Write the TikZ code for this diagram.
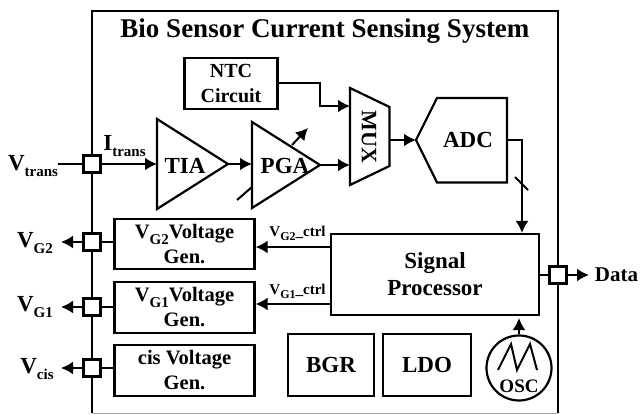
\documentclass[tikz,border=0pt]{standalone}
\usepackage{fontspec}
\setmainfont{Liberation Serif}
\usetikzlibrary{arrows.meta}
\newcommand{\sbs}[2]{\raisebox{-0.28em}{\fontsize{#1}{#1}\selectfont #2}}
\tikzset{
  wire/.style={line width=2pt},
  arrowwire/.style={wire,-{Latex[length=12pt,width=13pt]}},
  blockbox/.style={draw,line width=2.2pt,fill=white,align=center,inner sep=0pt,font=\bfseries\fontsize{20.5}{25}\selectfont},
  portbox/.style={draw,line width=2.2pt,fill=white,minimum size=17pt,inner sep=0pt},
  lbl/.style={inner sep=0pt,font=\bfseries\fontsize{23}{26}\selectfont}
}
\begin{document}
\begin{tikzpicture}[x=1pt,y=-1pt]
\useasboundingbox (0,0) rectangle (640,414);
% Chip outline
\draw[wire] (92,413) -- (92,11) -- (558,11) -- (558,413);
\draw[black!35,line width=0.8pt] (92,413.5) -- (558,413.5);
\node[lbl,font=\bfseries\fontsize{27}{30}\selectfont] (title) at (325,31) {Bio Sensor Current Sensing System};
% Blocks
\node[blockbox,font=\bfseries\fontsize{20}{25}\selectfont,minimum width=93pt,minimum height=51pt] (ntc) at (231,83.5) {NTC\\Circuit};
\node[blockbox,minimum width=140pt,minimum height=50pt] (vgtwo) at (184.5,244) {V\sbs{15}{G2}Voltage\\Gen.};
\node[blockbox,minimum width=140pt,minimum height=51pt] (vgone) at (184.5,307.5) {V\sbs{15}{G1}Voltage\\Gen.};
\node[blockbox,minimum width=140pt,minimum height=51pt] (vcis) at (184.5,370.5) {cis Voltage\\Gen.};
\node[blockbox,minimum width=208pt,minimum height=81pt,font=\bfseries\fontsize{23}{27}\selectfont] (sp) at (435,274.5) {Signal\\Processor};
\node[blockbox,minimum width=86pt,minimum height=62pt,font=\bfseries\fontsize{23}{25}\selectfont] (bgr) at (331,365) {BGR};
\node[blockbox,minimum width=88pt,minimum height=62pt,font=\bfseries\fontsize{23}{25}\selectfont] (ldo) at (427,365) {LDO};
% Amplifiers, mux and converter
\draw[wire,line width=2.2pt,line join=miter] (157,119) -- (228,164) -- (157,209) -- cycle;
\draw[wire,line width=2.2pt,line join=miter] (252,122) -- (320,165) -- (252,208) -- cycle;
\draw[wire,line width=2.2pt,line join=miter] (350,88) -- (389.5,107) -- (389.5,166) -- (350,185) -- cycle;
\draw[wire,line width=2.2pt,line join=miter] (416,140) -- (437,98) -- (507,98) -- (507,182.5) -- (437,182.5) -- cycle;
\node[lbl] (tia) at (185,166) {TIA};
\node[lbl] (pga) at (285,166) {PGA};
\node[lbl,font=\bfseries\fontsize{22}{24}\selectfont,rotate=-90] (mux) at (369,137) {MUX};
\node[lbl] (adc) at (468,140) {ADC};
\coordinate (tiain) at (157,164);
\coordinate (tiaout) at (228,164);
\coordinate (pgain) at (252,164);
\coordinate (pgaout) at (320,165);
\coordinate (muxa) at (350,106);
\coordinate (muxb) at (350,165);
\coordinate (muxout) at (389.5,140);
\coordinate (adcin) at (416,140);
\coordinate (adcout) at (507,140);
% Oscillator
\node[draw,circle,line width=2.2pt,minimum size=65pt,inner sep=0pt] (osc) at (519,368) {};
\node[lbl,font=\bfseries\fontsize{19}{20}\selectfont] (osclbl) at (519,386.5) {OSC};
\draw[wire,line join=miter] (498,370) -- (511,344) -- (517,370) -- (530,344) -- (537,370);
% Ports on the outline
\node[portbox] (ptrans) at (92,164) {};
\node[portbox] (pgtwo) at (92,242) {};
\node[portbox] (pgone) at (92,307) {};
\node[portbox] (pcis) at (92,368) {};
\node[portbox] (pdata) at (558,275) {};
% Outside labels
\node[lbl] (ltrans) at (33,166) {V\sbs{15}{trans}};
\node[lbl] (litrans) at (124.5,146) {I\sbs{15}{trans}};
\node[lbl] (lgtwo) at (35,243) {V\sbs{15}{G2}};
\node[lbl] (lgone) at (35,307) {V\sbs{15}{G1}};
\node[lbl] (lcis) at (37,369) {V\sbs{15}{cis}};
\node[lbl,font=\bfseries\fontsize{21}{24}\selectfont] (ldata) at (616.5,275) {Data};
\node[lbl,font=\bfseries\fontsize{15}{16}\selectfont] (lctwo) at (297.5,233) {V\sbs{12}{G2}\_ctrl};
\node[lbl,font=\bfseries\fontsize{15}{16}\selectfont] (lcone) at (297.5,291) {V\sbs{12}{G1}\_ctrl};
% Connectors
\coordinate (vtransend) at (58,164);
\coordinate (gtwoend) at (61,242);
\coordinate (goneend) at (61,307);
\coordinate (cisend) at (61,368);
\coordinate (dataend) at (589,275);
\draw[wire] (vtransend) -- (ptrans);
\draw[arrowwire] (ptrans) -- (tiain);
\draw[arrowwire] (tiaout) -- (pgain);
\draw[arrowwire] (pgaout) -- (muxb);
\draw[arrowwire] (ntc.east) -- ++(41,0) |- (muxa);
\draw[arrowwire] (muxout) -- (adcin);
\draw[arrowwire] (adcout) -- ++(15,0) -- (522,233);
\draw[arrowwire] (pgtwo) -- (gtwoend);
\draw[arrowwire] (pgone) -- (goneend);
\draw[arrowwire] (pcis) -- (cisend);
\draw[wire] (vgtwo.west |- pgtwo) -- (pgtwo);
\draw[wire] (vgone.west |- pgone) -- (pgone);
\draw[wire] (vcis.west |- pcis) -- (pcis);
\draw[arrowwire] (sp.west |- 0,247) -- (vgtwo.east |- 0,247);
\draw[arrowwire] (sp.west |- 0,304) -- (vgone.east |- 0,304);
\draw[wire] (sp.east |- pdata) -- (pdata);
\draw[arrowwire] (pdata) -- (dataend);
\draw[arrowwire] (osc.north) -- (519,318);
% Slashes on gain control and bus
\draw[arrowwire] (292,145) -- (308,128);
\draw[wire] (237,200) -- (252,187);
\draw[wire] (515,177) -- (528,190);
\end{tikzpicture}
\end{document}
